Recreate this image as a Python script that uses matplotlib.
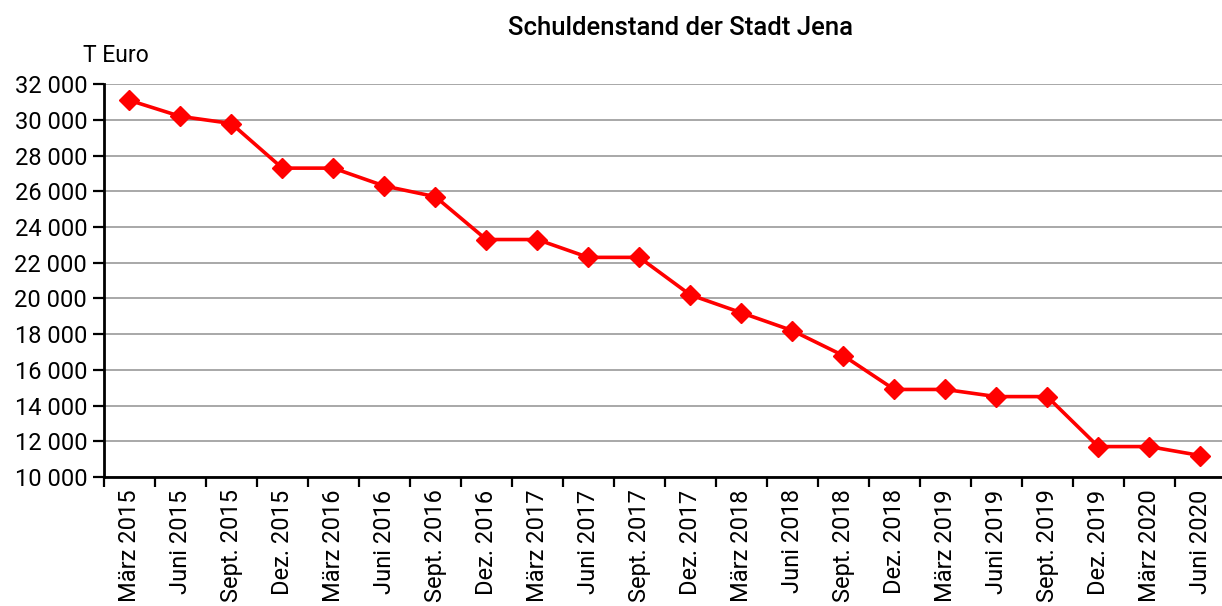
import matplotlib.pyplot as plt
from matplotlib.ticker import FuncFormatter, FixedLocator

# Schuldenstand der Stadt Jena, Quartalswerte in T Euro
quartale = ['März 2015', 'Juni 2015', 'Sept. 2015', 'Dez. 2015',
            'März 2016', 'Juni 2016', 'Sept. 2016', 'Dez. 2016',
            'März 2017', 'Juni 2017', 'Sept. 2017', 'Dez. 2017',
            'März 2018', 'Juni 2018', 'Sept. 2018', 'Dez. 2018',
            'März 2019', 'Juni 2019', 'Sept. 2019', 'Dez. 2019',
            'März 2020', 'Juni 2020']
schulden = [31100, 30200, 29800, 27300, 27300, 26300, 25700, 23300,
            23300, 22300, 22300, 20200, 19200, 18200, 16800, 14900,
            14900, 14500, 14500, 11700, 11700, 11200]

plt.rcParams['font.family'] = ['Roboto', 'DejaVu Sans']

fig = plt.figure(figsize=(12.22, 6.06), dpi=100)
ax = fig.add_axes([0.085, 0.213, 0.918, 0.648])

x = list(range(len(quartale)))
ax.plot(x, schulden, color='#ff0000', linewidth=2.6, marker='D',
        markersize=10, markeredgewidth=1, markeredgecolor='#ff0000',
        zorder=3, clip_on=False)

ax.set_xlim(-0.5, len(quartale) - 0.5)
ax.set_ylim(10000, 32000)
ax.set_yticks(range(10000, 32001, 2000))
ax.yaxis.set_major_formatter(FuncFormatter(lambda v, p: f'{int(v):,}'.replace(',', ' ')))
ax.yaxis.grid(True, color='#999999', linewidth=1.2)
ax.set_axisbelow(True)

# Ticks sit between the categories, labels in the middle
ax.xaxis.set_major_locator(FixedLocator([i - 0.5 for i in range(len(quartale) + 1)]))
ax.xaxis.set_minor_locator(FixedLocator(x))
ax.set_xticklabels([])
ax.set_xticks(x, quartale, minor=True, rotation=90, fontsize=17)
ax.tick_params(axis='x', which='minor', length=0, pad=9)
ax.tick_params(axis='x', which='major', length=7, width=1.6, direction='out')
ax.tick_params(axis='y', length=8, width=1.6, labelsize=17, pad=4)

for side in ['top', 'right']:
    ax.spines[side].set_visible(False)
for side in ['left', 'bottom']:
    ax.spines[side].set_linewidth(2)

fig.text(0.557, 0.953, 'Schuldenstand der Stadt Jena', ha='center', va='center',
         fontsize=18.5, fontweight='medium')
fig.text(0.068, 0.908, 'T Euro', ha='left', va='center', fontsize=16.5)

fig.savefig('out.png', dpi=100)
